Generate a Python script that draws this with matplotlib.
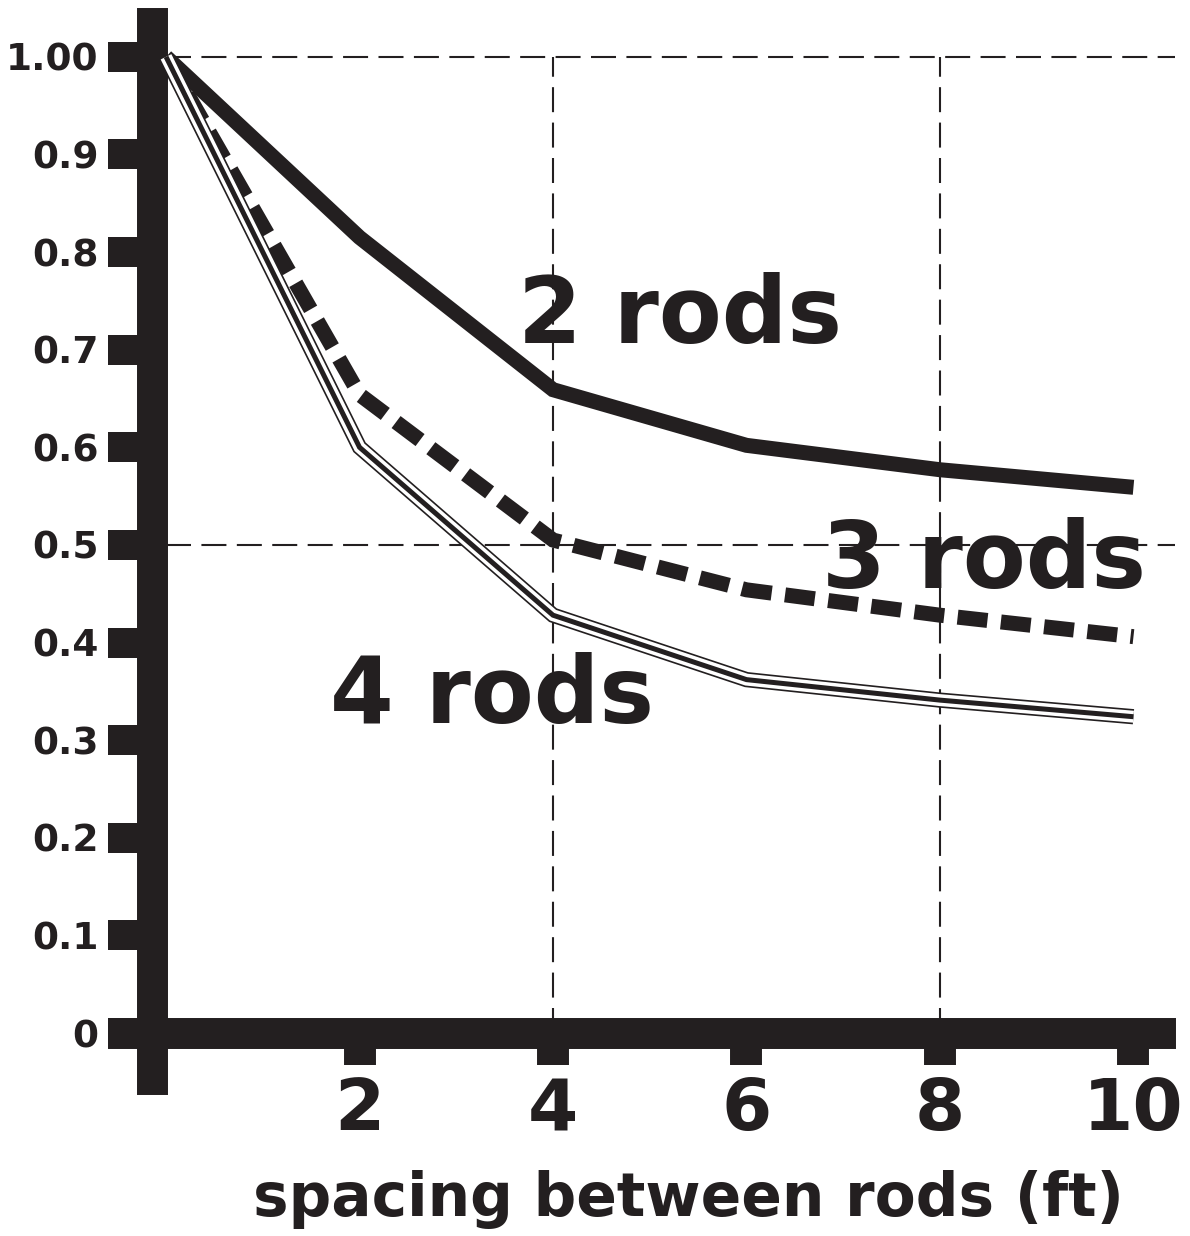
import matplotlib
matplotlib.use('Agg')
import matplotlib.pyplot as plt

# spacing between rods (ft) and relative resistance for each group
spacing = [0, 2, 4, 6, 8, 10]
rods_2 = [1.0, 0.815, 0.659, 0.602, 0.577, 0.559]
rods_3 = [1.0, 0.654, 0.505, 0.454, 0.428, 0.406]
rods_4 = [1.0, 0.600, 0.428, 0.362, 0.341, 0.324]

y_ticks = [0, 0.1, 0.2, 0.3, 0.4, 0.5, 0.6, 0.7, 0.8, 0.9, 1.0]
y_labels = ['0', '0.1', '0.2', '0.3', '0.4', '0.5', '0.6', '0.7', '0.8', '0.9', '1.00']
x_ticks = [2, 4, 6, 8, 10]
grid_x = [4, 8]
grid_y = [0.5, 1.0]

ink = '#231f20'

fig = plt.figure(figsize=(11.9, 12.36), dpi=100)
ax = fig.add_axes([152 / 1190, (1236 - 1033) / 1236, 1025 / 1190, 1025 / 1236])
ax.set_xlim(-0.145, 10.45)
ax.set_ylim(0, 1.05)

# dashed reference lines
ax.hlines(grid_y, 0, 10.43, colors=ink, linewidth=1.5, linestyles=(0, (12, 5)), zorder=1)
ax.vlines(grid_x, 0, 1.0, colors=ink, linewidth=1.5, linestyles=(0, (12, 5)), zorder=1)

# 2 rods: heavy solid line
ax.plot(spacing, rods_2, color=ink, linewidth=10.8, solid_joinstyle='miter',
        solid_capstyle='butt', zorder=3)
# 3 rods: heavy dashed line
ax.plot(spacing, rods_3, color=ink, linewidth=10.8, dashes=(2.0, 0.9),
        dash_capstyle='butt', dash_joinstyle='miter', zorder=3)
# 4 rods: triple line (outline + white gap + core)
ax.plot(spacing, rods_4, color=ink, linewidth=11, solid_joinstyle='miter',
        solid_capstyle='butt', zorder=3)
ax.plot(spacing, rods_4, color='white', linewidth=8.6, solid_joinstyle='miter',
        solid_capstyle='butt', zorder=3)
ax.plot(spacing, rods_4, color=ink, linewidth=3.6, solid_joinstyle='miter',
        solid_capstyle='butt', zorder=3)

ax.text(3.64, 0.707, '2 rods', fontsize=66, fontweight='bold', color=ink,
        ha='left', va='baseline', zorder=4)
ax.text(6.78, 0.456, '3 rods', fontsize=66, fontweight='bold', color=ink,
        ha='left', va='baseline', zorder=4)
ax.text(1.70, 0.318, '4 rods', fontsize=66, fontweight='bold', color=ink,
        ha='left', va='baseline', zorder=4)

# heavy axes
for side in ['top', 'right']:
    ax.spines[side].set_visible(False)
ax.spines['left'].set_linewidth(22.3)
ax.spines['left'].set_color(ink)
ax.spines['left'].set_bounds(-0.047, 1.035)
ax.spines['bottom'].set_linewidth(22.3)
ax.spines['bottom'].set_color(ink)
ax.spines['bottom'].set_bounds(-0.44, 10.27)

ax.set_yticks(y_ticks)
ax.set_yticklabels(y_labels)
ax.set_xticks(x_ticks)
ax.set_xticklabels([str(v) for v in x_ticks])
ax.tick_params(axis='y', direction='out', length=31.7, width=21.6, color=ink,
               pad=7, labelsize=27, labelcolor=ink)
ax.tick_params(axis='x', direction='out', length=23, width=23, color=ink,
               pad=8, labelsize=52, labelcolor=ink)
for lab in ax.get_xticklabels() + ax.get_yticklabels():
    lab.set_fontweight('bold')

ax.set_xlabel('spacing between rods (ft)', fontsize=43, fontweight='bold',
              color=ink)
ax.xaxis.set_label_coords(5.4, -0.187, transform=ax.transData)
ax.xaxis.label.set_va('baseline')

fig.savefig('out.png', dpi=100, facecolor='white')
